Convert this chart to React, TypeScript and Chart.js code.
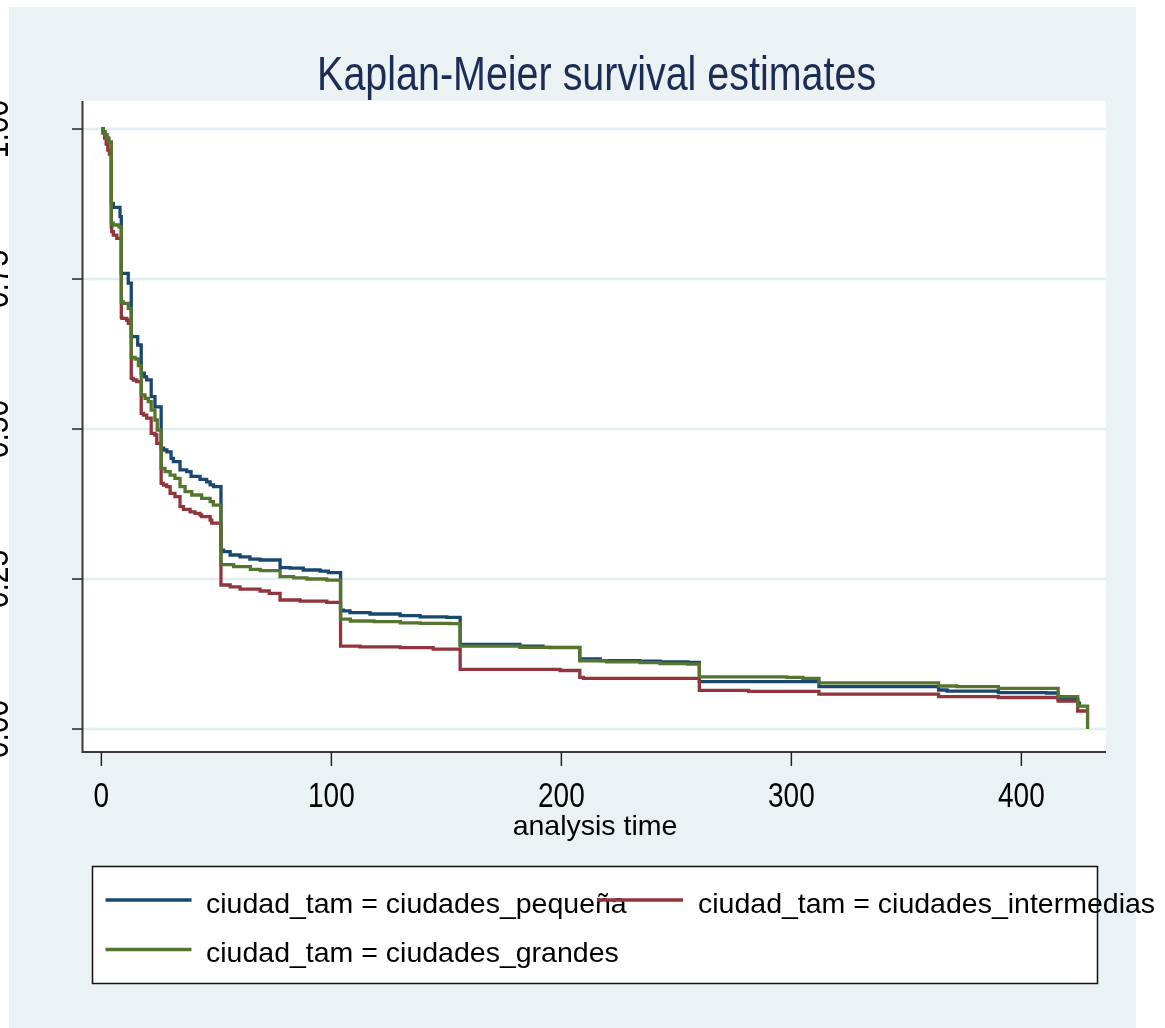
import React, { useEffect, useRef } from 'react';
import { Chart, registerables } from 'chart.js';

Chart.register(...registerables);

// ---------- data ----------
const TITLE = 'Kaplan-Meier survival estimates';
const X_TITLE = 'analysis time';
const X_TICKS = [0, 100, 200, 300, 400];
const X_TICK_LABELS = ['0', '100', '200', '300', '400'];
const Y_TICKS = [0, 0.25, 0.5, 0.75, 1];
const Y_TICK_LABELS = ['0.00', '0.25', '0.50', '0.75', '1.00'];

const SERIES_NAMES = [
  'ciudad_tam = ciudades_pequeña',
  'ciudad_tam = ciudades_intermedias',
  'ciudad_tam = ciudades_grandes',
];
const SERIES_COLORS = ['#1A476F', '#90353B', '#55752F'];

// ciudades_pequeña
const PEQ_T = [0, 0.8, 1.6, 2.4, 3.2, 4.33, 5.2, 8.1, 8.67, 11.7, 13, 15.8, 17.33, 18.7, 19.7, 21.67, 23.3, 26, 27.1, 28.5, 30.3, 31.3, 34.2, 37.1, 39, 42.9, 45.8, 47.3, 48.8, 52, 53.1, 56, 60.3, 64.6, 69, 77.7, 82, 87.8, 95.1, 98.7, 104, 105.2, 108.1, 116.8, 129.9, 138.6, 150.2, 156, 182, 192, 208, 216.9, 234, 243, 255, 260, 312, 364, 367.7, 390, 411, 416, 424.5, 426];
const PEQ_S = [1, 0.995, 0.99, 0.984, 0.978, 0.876, 0.8695, 0.854, 0.7595, 0.743, 0.654, 0.64, 0.593, 0.587, 0.582, 0.554, 0.537, 0.468, 0.465, 0.462, 0.451, 0.4455, 0.432, 0.429, 0.421, 0.416, 0.412, 0.407, 0.404, 0.2983, 0.2955, 0.29, 0.287, 0.2833, 0.2817, 0.269, 0.268, 0.265, 0.2633, 0.2606, 0.198, 0.197, 0.194, 0.1917, 0.189, 0.187, 0.186, 0.141, 0.1383, 0.136, 0.1167, 0.1139, 0.113, 0.112, 0.111, 0.079, 0.0705, 0.065, 0.0633, 0.0605, 0.06, 0.0495, 0.043, 0.043];

// ciudades_intermedias
const INT_T = [0, 0.7, 1.4, 2.1, 2.8, 3.5, 4.33, 4.5, 5.2, 6.7, 8.67, 8.9, 11, 11.7, 13, 13.9, 15.4, 17.33, 18.3, 19.7, 21.67, 23.3, 24.1, 26, 27, 28.4, 29.9, 32, 34.2, 35.7, 38.6, 40.7, 42.9, 43.6, 47.3, 48, 52, 56, 60.3, 69, 73, 77.7, 86.4, 98, 104, 112.5, 129.9, 144.3, 156, 199.4, 208, 209.6, 260, 281.4, 312, 364, 390, 416, 424.5, 428.4];
const INT_S = [1, 0.993, 0.985, 0.975, 0.965, 0.958, 0.837, 0.829, 0.8233, 0.8178, 0.687, 0.6845, 0.6817, 0.676, 0.5845, 0.5817, 0.579, 0.526, 0.5233, 0.518, 0.4928, 0.49, 0.476, 0.4095, 0.4067, 0.404, 0.3928, 0.3872, 0.3705, 0.366, 0.362, 0.3595, 0.3567, 0.354, 0.3483, 0.343, 0.24, 0.237, 0.2333, 0.23, 0.2262, 0.215, 0.2133, 0.211, 0.138, 0.137, 0.1355, 0.1333, 0.0995, 0.0975, 0.086, 0.0845, 0.0645, 0.0627, 0.058, 0.054, 0.0525, 0.0467, 0.03, 0.03];

// ciudades_grandes
const GRA_T = [0, 0.8, 1.6, 2.4, 3.2, 4.33, 5.2, 7.7, 8.67, 9.6, 11.7, 13, 14.7, 16.1, 17.33, 19, 20.4, 21.67, 23.3, 24.3, 26, 27.7, 29.9, 32, 34.2, 36.4, 39.3, 43.6, 47.3, 48.7, 52, 57.5, 64.8, 69.1, 77.7, 83.6, 89.4, 98, 104, 108.3, 118.5, 130, 138.7, 151.6, 156, 182, 195, 208, 219.7, 234.2, 242.9, 255, 260, 298, 305, 312, 364, 372, 390, 416, 424.5, 428.8];
const GRA_S = [1, 0.995, 0.99, 0.985, 0.978, 0.843, 0.84, 0.837, 0.712, 0.7095, 0.701, 0.6195, 0.6167, 0.6055, 0.5567, 0.551, 0.5455, 0.5317, 0.515, 0.4983, 0.4345, 0.429, 0.4233, 0.4178, 0.404, 0.3955, 0.39, 0.3845, 0.379, 0.3733, 0.274, 0.2705, 0.266, 0.264, 0.254, 0.252, 0.25, 0.248, 0.183, 0.18, 0.179, 0.177, 0.176, 0.1755, 0.138, 0.136, 0.1355, 0.1138, 0.112, 0.1105, 0.1089, 0.1083, 0.087, 0.086, 0.0845, 0.077, 0.0717, 0.0705, 0.0678, 0.054, 0.0383, 0];

const SERIES_T = [PEQ_T, INT_T, GRA_T];
const SERIES_S = [PEQ_S, INT_S, GRA_S];

// ---------- drawing helpers ----------
const FONT = '"Liberation Sans", Arial, Helvetica, sans-serif';

function drawText(
  ctx: CanvasRenderingContext2D,
  s: string,
  x: number,
  y: number,
  size: number,
  opts: { align?: CanvasTextAlign; color?: string; sx?: number; fitWidth?: number; rotate?: number } = {}
) {
  ctx.save();
  ctx.font = `${size}px ${FONT}`;
  let sx = opts.sx ?? 1;
  if (opts.fitWidth) sx = opts.fitWidth / ctx.measureText(s).width;
  ctx.translate(x, y);
  if (opts.rotate) ctx.rotate(opts.rotate);
  ctx.scale(sx, 1);
  ctx.textAlign = opts.align ?? 'left';
  ctx.textBaseline = 'alphabetic';
  ctx.fillStyle = opts.color ?? '#000';
  ctx.fillText(s, 0, 0);
  ctx.restore();
}

const stataPlugin = {
  id: 'stataLook',
  beforeDraw(chart: any) {
    const { ctx, chartArea: a } = chart;
    ctx.save();
    ctx.fillStyle = '#ffffff';
    ctx.fillRect(0, 0, chart.width, chart.height);
    ctx.fillStyle = '#EAF2F3';
    ctx.fillRect(9, 7, 1127, 1021);
    ctx.fillStyle = '#ffffff';
    ctx.fillRect(a.left, a.top, a.right - a.left, a.bottom - a.top);
    ctx.restore();
  },
  beforeDatasetsDraw(chart: any) {
    const { ctx, chartArea: a, scales } = chart;
    const ys = scales.y;
    ctx.save();
    ctx.strokeStyle = '#E3EDEF';
    ctx.lineWidth = 2.5;
    Y_TICKS.forEach((v) => {
      const py = ys.getPixelForValue(v);
      ctx.beginPath();
      ctx.moveTo(a.left, py);
      ctx.lineTo(a.right, py);
      ctx.stroke();
    });
    ctx.restore();
  },
  afterDraw(chart: any) {
    const { ctx, chartArea: a, scales } = chart;
    const xs = scales.x;
    const ys = scales.y;
    ctx.save();
    // axes
    ctx.strokeStyle = '#3a3a3a';
    ctx.lineWidth = 2;
    ctx.beginPath();
    ctx.moveTo(a.left, a.top);
    ctx.lineTo(a.left, a.bottom);
    ctx.lineTo(a.right, a.bottom);
    ctx.stroke();
    // tick marks
    ctx.lineWidth = 1.5;
    ctx.strokeStyle = '#222';
    Y_TICKS.forEach((v) => {
      const py = ys.getPixelForValue(v);
      ctx.beginPath();
      ctx.moveTo(a.left - 10.5, py);
      ctx.lineTo(a.left, py);
      ctx.stroke();
    });
    X_TICKS.forEach((v) => {
      const px = xs.getPixelForValue(v);
      ctx.beginPath();
      ctx.moveTo(px, a.bottom);
      ctx.lineTo(px, a.bottom + 14);
      ctx.stroke();
    });
    ctx.restore();

    // tick labels
    X_TICKS.forEach((v, i) => {
      drawText(ctx, X_TICK_LABELS[i], xs.getPixelForValue(v), 806.5, 35, { align: 'center', sx: 0.8 });
    });
    Y_TICKS.forEach((v, i) => {
      drawText(ctx, Y_TICK_LABELS[i], 8, ys.getPixelForValue(v), 35, { align: 'center', sx: 0.86, rotate: -Math.PI / 2 });
    });

    // axis title
    drawText(ctx, X_TITLE, 595, 834.5, 28.5, { align: 'center' });

    // title
    drawText(ctx, TITLE, 596.6, 90, 48, { align: 'center', fitWidth: 559, color: '#1C2C55' });

    // legend
    ctx.save();
    ctx.fillStyle = '#ffffff';
    ctx.fillRect(92.5, 866.5, 1005, 117);
    ctx.strokeStyle = '#111';
    ctx.lineWidth = 1.5;
    ctx.strokeRect(92.5, 866.5, 1005, 117);
    ctx.restore();
    const rows = [
      { lx: 105.5, ly: 900, tx: 206, ty: 912.5 },
      { lx: 597, ly: 900, tx: 698, ty: 912.5 },
      { lx: 105.5, ly: 949.5, tx: 206, ty: 962 },
    ];
    SERIES_NAMES.forEach((name, i) => {
      const r = rows[i];
      ctx.save();
      ctx.strokeStyle = SERIES_COLORS[i];
      ctx.lineWidth = 3.5;
      ctx.beginPath();
      ctx.moveTo(r.lx, r.ly);
      ctx.lineTo(r.lx + 86, r.ly);
      ctx.stroke();
      ctx.restore();
      drawText(ctx, name, r.tx, r.ty, 28.5, {});
    });
  },
};

export default function App() {
  const ref = useRef<HTMLCanvasElement | null>(null);
  useEffect(() => {
    if (!ref.current) return;
    const datasets = SERIES_NAMES.map((name, i) => ({
      label: name,
      data: SERIES_T[i].map((t, j) => ({ x: t, y: SERIES_S[i][j] })),
      borderColor: SERIES_COLORS[i],
      backgroundColor: SERIES_COLORS[i],
      borderWidth: 3.3,
      stepped: true as const,
      pointRadius: 0,
      fill: false,
      order: 3 - i,
    }));
    const chart = new Chart(ref.current, {
      type: 'line',
      data: { datasets },
      options: {
        animation: false,
        responsive: false,
        maintainAspectRatio: false,
        devicePixelRatio: 1,
        layout: { padding: { left: 0, top: 101, right: 59, bottom: 0 } },
        plugins: {
          legend: { display: false },
          title: { display: false },
          tooltip: { enabled: false },
        },
        scales: {
          x: {
            type: 'linear',
            min: -8.2,
            max: 436.8,
            ticks: { display: false },
            grid: { display: false },
            border: { display: false },
            afterFit: (s: any) => { s.height = 276; },
          },
          y: {
            type: 'linear',
            min: -0.0383,
            max: 1.0467,
            ticks: { display: false },
            grid: { display: false },
            border: { display: false },
            afterFit: (s: any) => { s.width = 82.5; },
          },
        },
      },
      plugins: [stataPlugin],
    } as any);
    return () => chart.destroy();
  }, []);
  return (
    <div style={{ position: 'absolute', left: 0, top: 0, width: 1165, height: 1028 }}>
      <canvas ref={ref} width={1165} height={1028} style={{ display: 'block', width: 1165, height: 1028 }} />
    </div>
  );
}
